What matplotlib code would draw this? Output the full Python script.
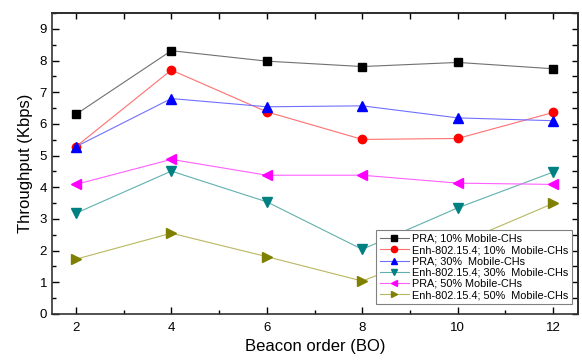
import matplotlib
matplotlib.use("Agg")
import matplotlib.pyplot as plt
from matplotlib.ticker import MultipleLocator

plt.rcParams['font.family'] = ['Liberation Sans', 'DejaVu Sans']

bo = [2, 4, 6, 8, 10, 12]
pra_10 = [6.30, 8.31, 7.98, 7.81, 7.94, 7.74]
enh_10 = [5.28, 7.70, 6.38, 5.51, 5.54, 6.36]
pra_30 = [5.28, 6.80, 6.54, 6.57, 6.19, 6.10]
enh_30 = [3.18, 4.51, 3.54, 2.04, 3.35, 4.48]
pra_50 = [4.09, 4.88, 4.38, 4.38, 4.13, 4.09]
enh_50 = [1.73, 2.55, 1.81, 1.04, 2.21, 3.49]

labels = ["PRA; 10% Mobile-CHs",
          "Enh-802.15.4; 10%  Mobile-CHs",
          "PRA; 30%  Mobile-CHs",
          "Enh-802.15.4; 30%  Mobile-CHs",
          "PRA; 50% Mobile-CHs",
          "Enh-802.15.4; 50%  Mobile-CHs"]
series = [pra_10, enh_10, pra_30, enh_30, pra_50, enh_50]
markers = ['s', 'o', '^', 'v', '<', '>']
mcolors = ['#000000', '#ff0000', '#0000ff', '#008080', '#ff00ff', '#808000']
lcolors = ['#707070', '#ff7070', '#7070ff', '#60b0b0', '#ff60ff', '#b8b860']
msizes = [5.5, 6, 6.5, 6.5, 6.5, 6.5]

fig = plt.figure(figsize=(5.82, 3.6), dpi=100)
ax = fig.add_axes([52/582, 1-314/360, 526/582, 301/360])

for y, lab, m, mc, lc, ms in zip(series, labels, markers, mcolors, lcolors, msizes):
    ax.plot(bo, y, color=lc, lw=0.8, marker=m, markersize=ms,
            markerfacecolor=mc, markeredgecolor=mc, label=lab)

ax.set_xlim(1.5, 12.52)
ax.set_ylim(0, 9.5)
ax.xaxis.set_major_locator(MultipleLocator(2))
ax.xaxis.set_minor_locator(MultipleLocator(1))
ax.yaxis.set_major_locator(MultipleLocator(1))
ax.yaxis.set_minor_locator(MultipleLocator(0.5))
ax.tick_params(which='major', direction='in', length=5, width=1, labelsize=9.5)
ax.tick_params(which='minor', direction='in', length=3, width=1)
ax.tick_params(axis='x', pad=6)
for s in ax.spines.values():
    s.set_linewidth(1.2)
    s.set_color('#333333')

secx = ax.secondary_xaxis('top')
secx.set_xticks(list(range(2, 13)))
secx.tick_params(direction='in', length=4, width=1, labeltop=False)
secx.spines['top'].set_linewidth(1.2)
secy = ax.secondary_yaxis('right')
secy.set_yticks([i * 0.5 for i in range(0, 20)])
secy.tick_params(direction='in', length=4, width=1, labelright=False)
secy.spines['right'].set_linewidth(1.2)

ax.set_xlabel("Beacon order (BO)", fontsize=12, labelpad=3)
ax.set_ylabel("Throughput (Kbps)", fontsize=12, labelpad=5)

leg = ax.legend(loc='lower right', bbox_to_anchor=(0.989, 0.033), borderaxespad=0,
                fontsize=7.8, handlelength=2.7, labelspacing=0.12, borderpad=0.35,
                handletextpad=0.3, markerscale=0.75, fancybox=False, framealpha=1,
                edgecolor='#808080')
leg.get_frame().set_linewidth(0.8)

fig.savefig("out.png", dpi=100)
